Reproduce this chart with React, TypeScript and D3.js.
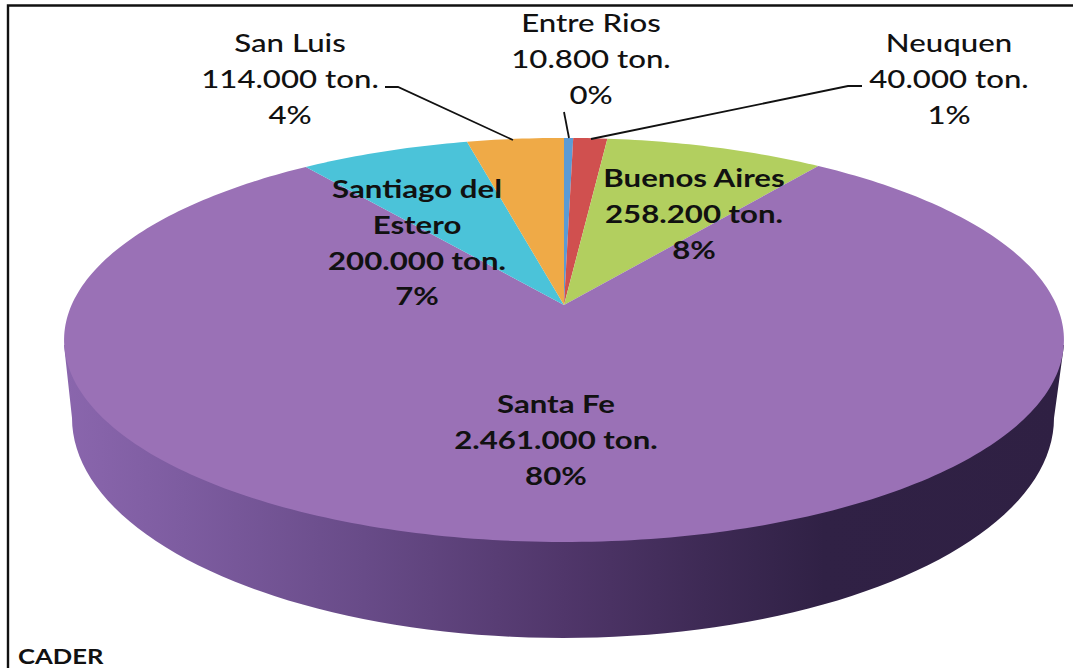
import React from 'react'
import * as d3 from 'd3'

const provinces = ['Entre Rios', 'Neuquen', 'Buenos Aires', 'Santa Fe', 'Santiago del Estero', 'San Luis']
const tons = [10800, 40000, 258200, 2461000, 200000, 114000]
const tonLabels = ['10.800 ton.', '40.000 ton.', '258.200 ton.', '2.461.000 ton.', '200.000 ton.', '114.000 ton.']
const percents = ['0%', '1%', '8%', '80%', '7%', '4%']
const colors = ['#5b9bd5', '#d0504f', '#b2cf5f', '#9a71b6', '#4bc3d9', '#efaa47']

const width = 1073
const height = 668
const font = 'Lato, sans-serif'
// the source picture is stretched sideways, so is the text
const stretch = 1.3

// the pie plane seen in perspective, so slices meet above the ellipse centre
const apex = { x: 564, y: 305 }
const persp = -0.173
const radiusX = 492.4
const radiusY = 196
const rim = { cx: 563, cy: 418, rx: 491, ry: 220 }

const project = (angle: number, r = 1): [number, number] => {
  const u = Math.sin(angle) * r
  const v = -Math.cos(angle) * r
  const w = 1 + persp * v
  return [apex.x + (radiusX * u) / w, apex.y + (radiusY * v) / w]
}

// label placement, one entry per province
const labelX = [591, 949, 694, 556, 417, 290]
const labelY = [32, 52, 187, 413, 198, 52]
const lineGap = 35.8
const labelWeight = [500, 500, 700, 700, 700, 500]
const nameLines = [['Entre Rios'], ['Neuquen'], ['Buenos Aires'], ['Santa Fe'], ['Santiago del', 'Estero'], ['San Luis']]

const leaders: [number, number][][] = [
  [[564, 112], [569, 138]],
  [[591, 139], [848, 86], [862, 86]],
  [[385, 87], [398, 87], [513, 140]],
]

const sideStops: [number, string][] = [
  [0, '#8a66ad'],
  [0.12, '#7d5ca0'],
  [0.3, '#684b88'],
  [0.5, '#50366a'],
  [0.64, '#3e2a55'],
  [0.76, '#302145'],
  [1, '#2f2043'],
]

export default function App() {
  const pie = d3.pie<number>().sort(null).startAngle(0).endAngle(2 * Math.PI)
  const arcs = pie(tons)
  const line = d3.line()

  const slicePath = (a: d3.PieArcDatum<number>) => {
    const steps = Math.max(2, Math.ceil((a.endAngle - a.startAngle) * 60))
    const pts = d3.range(steps + 1).map(i => project(a.startAngle + ((a.endAngle - a.startAngle) * i) / steps))
    return line([[apex.x, apex.y], ...pts]) + 'Z'
  }

  // side wall: lower half of the bottom ellipse, closed up to the widest part of the top face
  const wallPts = d3.range(0, 181, 2).map(deg => {
    const t = (deg * Math.PI) / 180
    return [rim.cx + rim.rx * Math.cos(t), rim.cy + rim.ry * Math.sin(t)] as [number, number]
  })
  const wallPath = line([[1064, 345], ...wallPts, [64, 345]]) + 'Z'

  return (
    <svg width={width} height={height} style={{ position: 'absolute', left: 0, top: 0, background: '#fff' }}>
      <defs>
        <linearGradient id="wall" gradientUnits="userSpaceOnUse" x1={64} x2={1064} y1={0} y2={0}>
          {sideStops.map(([o, c]) => <stop key={o} offset={o} stopColor={c} />)}
        </linearGradient>
      </defs>

      <path d={`M8,668V5.5H${width}`} fill="none" stroke="#111" strokeWidth={2.4} />

      <path d={wallPath} fill="url(#wall)" />
      {arcs.map((a, i) => <path key={provinces[i]} d={slicePath(a)} fill={colors[i]} />)}

      {leaders.map((pts, i) => <path key={i} d={line(pts) as string} fill="none" stroke="#111" strokeWidth={1.8} />)}

      {provinces.map((p, i) => {
        const lines = [...nameLines[i], tonLabels[i], percents[i]]
        return (
          <g key={p}>
            {lines.map((t, k) => (
              <text
                key={k}
                transform={`translate(${labelX[i]},${labelY[i] + k * lineGap}) scale(${stretch},1)`}
                textAnchor="middle"
                fontFamily={font}
                fontSize={24}
                fontWeight={labelWeight[i]}
                fill="#111"
              >
                {t}
              </text>
            ))}
          </g>
        )
      })}

      <text transform="translate(18,664) scale(1.22,1)" fontFamily={font} fontSize={21} fontWeight={700} fill="#111">CADER</text>
    </svg>
  )
}
